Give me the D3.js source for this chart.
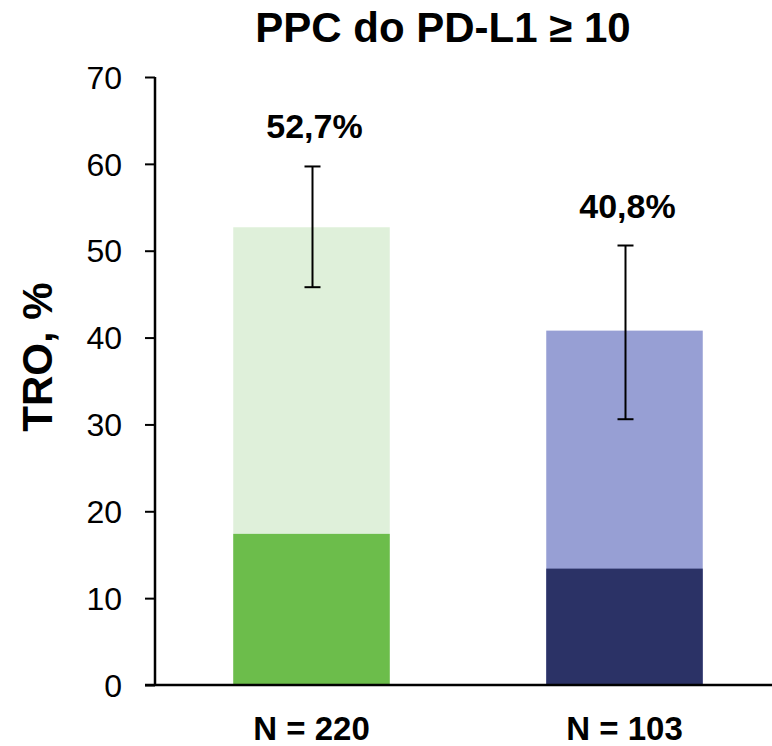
<!DOCTYPE html>
<html><head><meta charset="utf-8">
<script src="https://cdn.jsdelivr.net/npm/d3@7"></script>
<style>html,body{margin:0;padding:0;background:#fff;}</style>
</head><body>
<svg id="c" width="772" height="746"></svg>
<script>
const categories = ["N = 220", "N = 103"];
const totalValues = [52.7, 40.8];
const baseValues = [17.4, 13.4];
const errLow = [45.8, 30.6];
const errHigh = [59.7, 50.6];
const valueLabels = ["52,7%", "40,8%"];
const lightColors = ["#dff0da", "#979fd4"];
const darkColors = ["#6cbd4b", "#2b3266"];
const yTicks = [0, 10, 20, 30, 40, 50, 60, 70];

const FONT = "Liberation Sans, Arial, sans-serif";
const svg = d3.select("#c");
const x0 = 155, x1 = 781, yTop = 77, yBot = 685;
const x = d3.scaleBand().domain(categories).range([x0, x1]).paddingInner(0.5).paddingOuter(0.25);
const y = d3.scaleLinear().domain([0, 70]).range([yBot, yTop]);
const bw = x.bandwidth();

categories.forEach((c, i) => {
  const bx = x(c);
  const cx = bx + bw / 2;
  svg.append("rect").attr("x", bx).attr("width", bw)
    .attr("y", y(totalValues[i])).attr("height", y(0) - y(totalValues[i])).attr("fill", lightColors[i]);
  svg.append("rect").attr("x", bx).attr("width", bw)
    .attr("y", y(baseValues[i])).attr("height", y(0) - y(baseValues[i])).attr("fill", darkColors[i]);
  const ex = cx + 1;
  svg.append("line").attr("x1", ex).attr("x2", ex).attr("y1", y(errHigh[i])).attr("y2", y(errLow[i]))
    .attr("stroke", "#000").attr("stroke-width", 2);
  [errHigh[i], errLow[i]].forEach(v => svg.append("line").attr("x1", ex - 8).attr("x2", ex + 8)
    .attr("y1", y(v)).attr("y2", y(v)).attr("stroke", "#000").attr("stroke-width", 2));
  svg.append("text").attr("x", cx + 3).attr("y", y(errHigh[i]) - 28).attr("text-anchor", "middle")
    .attr("font-family", FONT).attr("font-weight", "bold").attr("font-size", 34).text(valueLabels[i]);
  svg.append("text").attr("x", cx).attr("y", 740).attr("text-anchor", "middle")
    .attr("font-family", FONT).attr("font-weight", "bold").attr("font-size", 33).text(c);
});

// y axis
const yAxis = d3.axisLeft(y).tickValues(yTicks).tickSize(10).tickPadding(23).tickSizeOuter(0);
const ga = svg.append("g").attr("transform", `translate(${x0},0)`).call(yAxis);
ga.select(".domain").attr("stroke", "#000").attr("stroke-width", 2.5).attr("d", `M0,${yTop}V${yBot}`);
ga.selectAll(".tick line").attr("stroke", "#000").attr("stroke-width", 2);
ga.selectAll(".tick text").attr("font-family", FONT).attr("font-size", 32).attr("fill", "#000").attr("dy", "0.35em");

// x axis line
svg.append("line").attr("x1", 145).attr("x2", 772).attr("y1", yBot).attr("y2", yBot)
  .attr("stroke", "#000").attr("stroke-width", 2.5);

// title
svg.append("text").attr("x", 443).attr("y", 42).attr("text-anchor", "middle")
  .attr("font-family", FONT).attr("font-weight", "bold").attr("font-size", 42).text("PPC do PD-L1 ≥ 10");

// y label
svg.append("text").attr("transform", `translate(52,357) rotate(-90)`).attr("text-anchor", "middle")
  .attr("font-family", FONT).attr("font-weight", "bold").attr("font-size", 42).text("TRO, %");
</script>
</body></html>
